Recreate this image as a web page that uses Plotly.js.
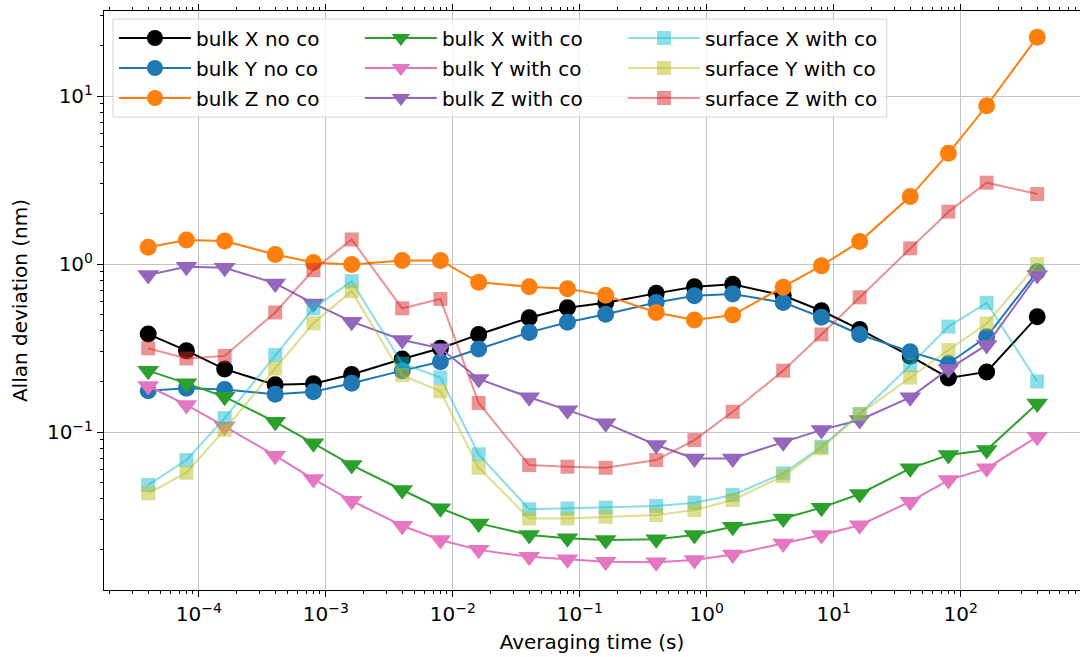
<!DOCTYPE html>
<html>
<head>
<meta charset="utf-8">
<script src="https://cdn.plot.ly/plotly-3.0.1.min.js"></script>
<style>
  html, body { margin: 0; padding: 0; background: #ffffff; }
  #chart { width: 1080px; height: 657px; }
</style>
</head>
<body>
<div id="chart"></div>
<script>
// Averaging times (s)
const tau = [4e-5, 8e-5, 1.6e-4, 4e-4, 8e-4, 1.6e-3, 4e-3, 8e-3, 1.6e-2, 4e-2, 8e-2,
             0.16, 0.4, 0.8, 1.6, 4, 8, 16, 40, 80, 160, 400];

// Allan deviation (nm), bulk sensor without correction
const bulkXNoCo = [0.383, 0.305, 0.237, 0.191, 0.194, 0.22, 0.272, 0.315, 0.381, 0.479, 0.55,
                   0.588, 0.669, 0.733, 0.757, 0.65, 0.527, 0.408, 0.283, 0.21, 0.228, 0.486];
const bulkYNoCo = [0.176, 0.182, 0.179, 0.168, 0.174, 0.195, 0.232, 0.262, 0.312, 0.392, 0.45,
                   0.502, 0.591, 0.648, 0.663, 0.591, 0.482, 0.381, 0.301, 0.256, 0.369, 0.9];
const bulkZNoCo = [1.26, 1.39, 1.37, 1.14, 1.02, 0.995, 1.05, 1.05, 0.778, 0.733, 0.713,
                   0.651, 0.515, 0.464, 0.497, 0.727, 0.977, 1.36, 2.52, 4.56, 8.75, 22.4];

// Bulk sensor with correction
const bulkXWithCo = [0.232, 0.195, 0.162, 0.115, 0.0857, 0.0636, 0.0452, 0.0352, 0.0286, 0.0244, 0.0233,
                     0.0228, 0.0230, 0.0244, 0.0273, 0.0306, 0.0355, 0.0428, 0.0608, 0.0730, 0.0781, 0.148];
const bulkYWithCo = [0.188, 0.145, 0.108, 0.0723, 0.0525, 0.039, 0.0277, 0.0228, 0.0199, 0.0181, 0.0175,
                     0.0169, 0.0168, 0.0173, 0.0187, 0.0217, 0.0244, 0.0279, 0.0385, 0.0518, 0.0608, 0.0938];
const bulkZWithCo = [0.86, 0.964, 0.951, 0.767, 0.583, 0.454, 0.353, 0.315, 0.207, 0.161, 0.135,
                     0.113, 0.0837, 0.0697, 0.0697, 0.0869, 0.103, 0.118, 0.161, 0.237, 0.33, 0.86];

// Surface sensor with correction
const surfaceXWithCo = [0.0484, 0.0681, 0.121, 0.287, 0.545, 0.79, 0.256, 0.211, 0.0737, 0.0347, 0.0351,
                        0.0355, 0.0363, 0.038, 0.0422, 0.0568, 0.0818, 0.128, 0.25, 0.424, 0.588, 0.2];
const surfaceYWithCo = [0.0432, 0.0573, 0.103, 0.239, 0.444, 0.69, 0.218, 0.175, 0.0613, 0.0306, 0.0306,
                        0.0313, 0.0321, 0.0343, 0.0394, 0.0547, 0.08, 0.128, 0.211, 0.308, 0.443, 1.0];
const surfaceZWithCo = [0.315, 0.274, 0.284, 0.515, 0.921, 1.40, 0.545, 0.619, 0.149, 0.0636, 0.0622,
                        0.0613, 0.0681, 0.0896, 0.132, 0.232, 0.381, 0.634, 1.24, 2.05, 3.05, 2.61];

const seriesNames = ['bulk X no co', 'bulk Y no co', 'bulk Z no co',
                     'bulk X with co', 'bulk Y with co', 'bulk Z with co',
                     'surface X with co', 'surface Y with co', 'surface Z with co'];

// Tick labels
const xTickExps = [-4, -3, -2, -1, 0, 1, 2];
const yTickExps = [-1, 0, 1];

const FONT = 'DejaVu Sans, Liberation Sans, sans-serif';

function line(name, y, color, symbol, size, legendId) {
  return {
    type: 'scatter', mode: 'lines+markers', name: name,
    x: tau, y: y,
    legend: legendId, legendgroup: name,
    line: { color: color, width: 2 },
    marker: { color: color, symbol: symbol, size: size, line: { width: 0 } }
  };
}

const traces = [
  line(seriesNames[0], bulkXNoCo, '#000000', 'circle', 17, 'legend'),
  line(seriesNames[1], bulkYNoCo, '#1f77b4', 'circle', 17, 'legend'),
  line(seriesNames[2], bulkZNoCo, '#ff7f0e', 'circle', 17, 'legend'),
  line(seriesNames[3], bulkXWithCo, '#2ca02c', 'triangle-down', 19, 'legend2'),
  line(seriesNames[4], bulkYWithCo, '#e377c2', 'triangle-down', 19, 'legend2'),
  line(seriesNames[5], bulkZWithCo, '#9467bd', 'triangle-down', 19, 'legend2'),
  line(seriesNames[6], surfaceXWithCo, 'rgba(23,190,207,0.5)', 'square', 14, 'legend3'),
  line(seriesNames[7], surfaceYWithCo, 'rgba(188,189,34,0.5)', 'square', 14, 'legend3'),
  line(seriesNames[8], surfaceZWithCo, 'rgba(214,39,40,0.5)', 'square', 14, 'legend3')
];

function powLabel(e) {
  return '10<sup>' + (e < 0 ? '\u2212' + (-e) : e) + '</sup>';
}
function minorVals(lo, hi) {
  const v = [];
  for (let e = lo; e <= hi; e++) for (let m = 2; m <= 9; m++) v.push(m * Math.pow(10, e));
  return v;
}

function legendAt(x) {
  return {
    x: x, y: 0.987, xanchor: 'left', yanchor: 'top',
    bgcolor: 'rgba(0,0,0,0)', borderwidth: 0,
    font: { family: FONT, size: 20, color: '#000000' },
    itemwidth: 72, tracegroupgap: 1, itemclick: false, itemdoubleclick: false
  };
}

const axisCommon = {
  type: 'log',
  showline: true, linecolor: '#000000', linewidth: 1, mirror: 'allticks',
  ticks: 'outside', ticklen: 6, tickwidth: 1, tickcolor: '#000000',
  showgrid: true, gridcolor: '#c4c4c4', gridwidth: 1,
  zeroline: false,
  tickfont: { family: FONT, size: 20, color: '#000000' },
  tickmode: 'array'
};

const layout = {
  width: 1080, height: 657,
  margin: { l: 104, r: 0, t: 11, b: 67, pad: 0 },
  paper_bgcolor: '#ffffff', plot_bgcolor: '#ffffff',
  font: { family: FONT, color: '#000000' },
  showlegend: true,
  xaxis: Object.assign({}, axisCommon, {
    range: [-4.746, 2.939],
    tickvals: xTickExps.map(e => Math.pow(10, e)),
    ticktext: xTickExps.map(powLabel),
    minor: { tickmode: 'array', tickvals: minorVals(-5, 2), ticks: 'outside', ticklen: 3,
             tickcolor: '#000000', showgrid: false },
    title: { text: 'Averaging time (s)', font: { family: FONT, size: 20 }, standoff: 9 }
  }),
  yaxis: Object.assign({}, axisCommon, {
    range: [-1.94, 1.506],
    tickvals: yTickExps.map(e => Math.pow(10, e)),
    ticktext: yTickExps.map(powLabel),
    minor: { tickmode: 'array', tickvals: minorVals(-2, 1), ticks: 'outside', ticklen: 3,
             tickcolor: '#000000', showgrid: false },
    title: { text: 'Allan deviation (nm)', font: { family: FONT, size: 20 }, standoff: 13 }
  }),
  legend: legendAt(0.0102),
  legend2: legendAt(0.2622),
  legend3: legendAt(0.5317),
  shapes: [{
    type: 'rect', xref: 'paper', yref: 'paper', layer: 'above',
    x0: 0.0092, x1: 0.802, y0: 0.817, y1: 0.986,
    fillcolor: 'rgba(255,255,255,0.8)',
    line: { color: 'rgba(204,204,204,0.8)', width: 1 }
  }]
};

Plotly.newPlot('chart', traces, layout, { displayModeBar: false, staticPlot: true });
</script>
</body>
</html>
